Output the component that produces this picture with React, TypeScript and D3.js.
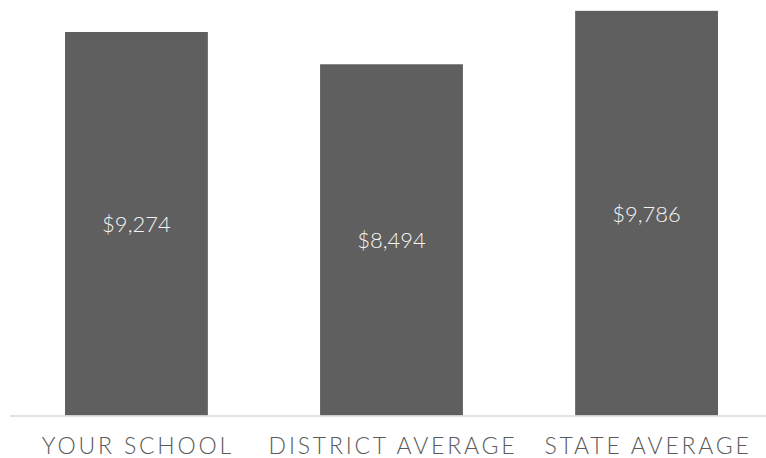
import React from "react";
import * as d3 from "d3";

const categories = ["YOUR SCHOOL", "DISTRICT AVERAGE", "STATE AVERAGE"];
const values = [9274, 8494, 9786];
const valueLabels = ["$9,274", "$8,494", "$9,786"];

const W = 766;
const H = 458;

export default function App() {
  const x = d3
    .scaleBand<string>()
    .domain(categories)
    .range([14, 769])
    .paddingInner(0.44)
    .paddingOuter(0.2);
  const y = d3.scaleLinear().domain([0, 10000]).range([415.5, 2]);
  const fmt = (v: number) => "$" + d3.format(",")(v);

  return (
    <svg
      width={W}
      height={H}
      style={{ position: "absolute", left: 0, top: 0, background: "#fff" }}
    >
      {categories.map((c, i) => {
        const x0 = x(c)!;
        const top = y(values[i]);
        const bottom = y(0);
        return (
          <g key={c}>
            <rect x={x0} y={top} width={x.bandwidth()} height={bottom - top} fill="#5f5f5f" />
            <text
              x={x0 + x.bandwidth() / 2}
              y={(top + bottom) / 2}
              textAnchor="middle"
              dominantBaseline="central"
              fill="#f4f4f4"
              fontFamily="Lato, sans-serif"
              fontWeight={300}
              fontSize={22}
            >
              {valueLabels[i] ?? fmt(values[i])}
            </text>
          </g>
        );
      })}
      <line x1={10} x2={766} y1={416} y2={416} stroke="#d9d9d9" strokeWidth={1.5} />
      {categories.map((c) => (
        <text
          key={c + "-label"}
          x={x(c)! + x.bandwidth() / 2 + 1.5}
          y={454}
          textAnchor="middle"
          fill="#5a5a5a"
          fontFamily="Lato, sans-serif"
          fontWeight={300}
          fontSize={23}
          letterSpacing={2.8}
        >
          {c}
        </text>
      ))}
    </svg>
  );
}
